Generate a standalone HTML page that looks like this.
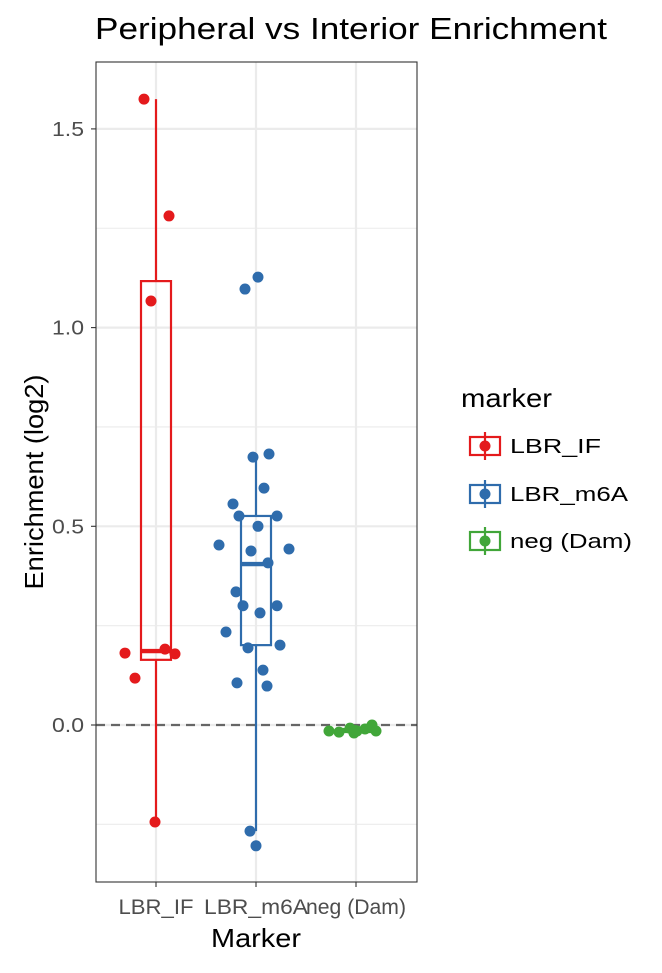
<!DOCTYPE html>
<html><head><meta charset="utf-8"><style>
body{margin:0;background:#fff}
svg{font-family:"Liberation Sans",Arial,sans-serif}
</style></head><body>
<svg id="chart" width="662" height="968" xmlns="http://www.w3.org/2000/svg"></svg>
<script>
const categories=["LBR_IF","LBR_m6A","neg (Dam)"];
const colors=["#E41A1C","#2F6CAC","#41A639"];
const valsIF=[1.575,1.281,1.067,0.181,0.118,0.191,0.179,-0.244];
const jitIF=[-0.12,0.13,-0.05,-0.31,-0.21,0.09,0.19,-0.01];
const valsM6A=[1.127,1.097,0.674,0.682,0.596,0.556,0.526,0.526,0.5,0.453,0.443,0.438,0.408,0.335,0.3,0.3,0.282,0.234,0.194,0.201,0.138,0.106,0.098,-0.267,-0.304];
const jitM6A=[0.02,-0.11,-0.03,0.13,0.08,-0.23,-0.17,0.21,0.02,-0.37,0.33,-0.05,0.12,-0.2,-0.13,0.21,0.04,-0.3,-0.08,0.24,0.07,-0.19,0.11,-0.06,0];
const valsNeg=[-0.015,-0.018,-0.008,-0.02,-0.015,-0.01,0,-0.015];
const jitNeg=[-0.27,-0.17,-0.06,-0.02,0.01,0.09,0.16,0.2];
const boxes=[[ -0.244,0.164,0.186,1.117,1.575],[-0.267,0.201,0.405,0.526,0.674],[-0.02,-0.017,-0.015,-0.01,0]];
const yTicks=[0,0.5,1.0,1.5];
const yTickLabels=["0.0","0.5","1.0","1.5"];
const yMinor=[-0.25,0.25,0.75,1.25];
const xLabelW=[75,104,100];
const NS="http://www.w3.org/2000/svg";
const svg=document.getElementById("chart");
const L=96,R=417,T=62,B=882;
const y=v=>725-v*397.4;
const x=i=>156+i*100;
function el(tag,attrs,parent){const e=document.createElementNS(NS,tag);for(const k in attrs)e.setAttribute(k,attrs[k]);(parent||svg).appendChild(e);return e;}
yMinor.forEach(v=>{const l=el("line",{x1:L,x2:R,y1:y(v),y2:y(v),stroke:"#EBEBEB","stroke-width":1.1});

});
yTicks.forEach(v=>{const l=el("line",{x1:L,x2:R,y1:y(v),y2:y(v),stroke:"#EBEBEB","stroke-width":2.2});

});
categories.forEach((c,i)=>{const l=el("line",{x1:x(i),x2:x(i),y1:T,y2:B,stroke:"#EBEBEB","stroke-width":2.2});

});
const z=el("line",{x1:L,x2:R,y1:y(0),y2:y(0),stroke:"#666","stroke-width":2.2,"stroke-dasharray":"9,6"});


boxes.forEach((b,i)=>{
 const g=el("g",{stroke:colors[i],"stroke-width":2.2,fill:"none"});
 
 
 el("line",{x1:x(i),x2:x(i),y1:y(b[0]),y2:y(b[1])},g);
 el("line",{x1:x(i),x2:x(i),y1:y(b[3]),y2:y(b[4])},g);
 el("rect",{x:x(i)-15,y:y(b[3]),width:30,height:y(b[1])-y(b[3])},g);
 el("line",{x1:x(i)-15,x2:x(i)+15,y1:y(b[2]),y2:y(b[2]),"stroke-width":4.4},g);
});
[[valsIF,jitIF],[valsM6A,jitM6A],[valsNeg,jitNeg]].forEach(([vs,js],i)=>{
 vs.forEach((v,k)=>{const c=el("circle",{cx:x(i)+js[k]*100,cy:y(v),r:5.5,fill:colors[i]});
 
 });
});
const p=el("rect",{x:L,y:T,width:R-L,height:B-T,fill:"none",stroke:"#333","stroke-width":1.1});


yTicks.forEach((v,k)=>{
 el("line",{x1:L-5,x2:L,y1:y(v),y2:y(v),stroke:"#333","stroke-width":1.1});
 const t=el("text",{x:L-12,y:y(v)+7,"text-anchor":"end","font-size":20,fill:"#4D4D4D",textLength:32,lengthAdjust:"spacingAndGlyphs"});t.textContent=yTickLabels[k];
 
 
});
categories.forEach((c,i)=>{
 el("line",{x1:x(i),x2:x(i),y1:B,y2:B+5,stroke:"#333","stroke-width":1.1});
 const t=el("text",{x:x(i),y:B+32,"text-anchor":"middle","font-size":21,fill:"#4D4D4D",textLength:xLabelW[i],lengthAdjust:"spacingAndGlyphs"});t.textContent=c;
 
 
});
</script>
<svg style="position:absolute;left:0;top:0" width="662" height="968" xmlns="http://www.w3.org/2000/svg">
<text x="351" y="39" text-anchor="middle" font-size="31" fill="#000" font-family="Liberation Sans" textLength="512" lengthAdjust="spacingAndGlyphs">Peripheral vs Interior Enrichment</text>
<text x="256" y="947" text-anchor="middle" font-size="26" fill="#000" font-family="Liberation Sans" textLength="90" lengthAdjust="spacingAndGlyphs">Marker</text>
<text transform="translate(43,482) rotate(-90)" text-anchor="middle" font-size="26" fill="#000" font-family="Liberation Sans" textLength="215" lengthAdjust="spacingAndGlyphs">Enrichment (log2)</text>
<g font-family="Liberation Sans">
<text x="461" y="407" font-size="26" textLength="91" lengthAdjust="spacingAndGlyphs">marker</text>
<g stroke="#E41A1C" stroke-width="2.2" fill="none">
<line x1="485" x2="485" y1="432" y2="460"/><rect x="470" y="437" width="30" height="18"/><circle cx="485" cy="446" r="5.5" fill="#E41A1C" stroke="none"/></g>
<text x="510" y="453" font-size="20" fill="#000" textLength="91" lengthAdjust="spacingAndGlyphs">LBR_IF</text>
<g stroke="#2F6CAC" stroke-width="2.2" fill="none">
<line x1="485" x2="485" y1="480" y2="508"/><rect x="470" y="485" width="30" height="18"/><circle cx="485" cy="494" r="5.5" fill="#2F6CAC" stroke="none"/></g>
<text x="510" y="501" font-size="20" fill="#000" textLength="118" lengthAdjust="spacingAndGlyphs">LBR_m6A</text>
<g stroke="#41A639" stroke-width="2.2" fill="none">
<line x1="485" x2="485" y1="527" y2="555"/><rect x="470" y="532" width="30" height="18"/><circle cx="485" cy="541" r="5.5" fill="#41A639" stroke="none"/></g>
<text x="510" y="548" font-size="20" fill="#000" textLength="122" lengthAdjust="spacingAndGlyphs">neg (Dam)</text>
</g>
</svg>
</body></html>
